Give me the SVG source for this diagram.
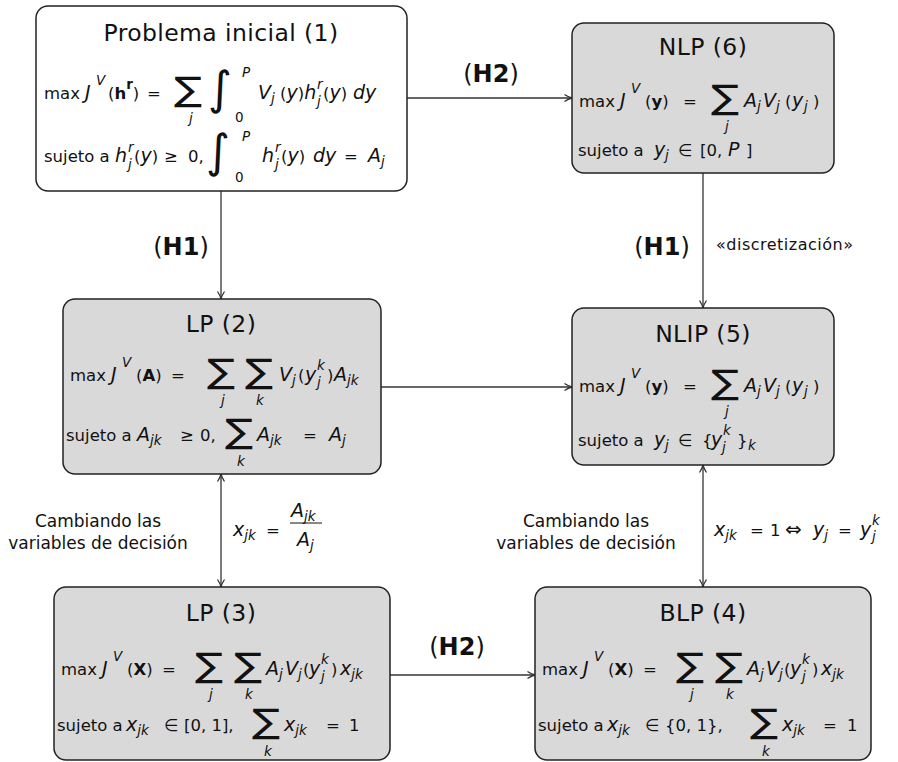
<svg xmlns="http://www.w3.org/2000/svg" width="898" height="762" viewBox="0 0 898 762">
<defs>
<style>
text{font-family:"DejaVu Sans",sans-serif;fill:#111;}
.box{stroke:#222;stroke-width:1.5;}
.w{fill:#fff;}
.g{fill:#d9d9d9;}
.tt{font-size:23.5px;letter-spacing:0.4px;}
.m{font-size:16.5px;}
.i{font-style:italic;}
.b{font-weight:bold;}
.s{font-size:13.5px;}
.m .i{font-size:19px;}
.m .s{font-size:13.5px;}
.m .big{font-size:20px;}
.sum{font-size:32px;}
.int{font-size:46px;}
.lim{font-size:13.5px;font-style:italic;}
.lbl{font-size:17px;}
.h{font-size:24px;}
.d{font-size:16px;letter-spacing:0.5px;}
.c{stroke:#333;stroke-width:1.3;fill:none;}
</style>
<marker id="ah" viewBox="0 0 10 10" refX="9.5" refY="5" markerWidth="10" markerHeight="10" markerUnits="userSpaceOnUse" orient="auto-start-reverse">
<path d="M2,1.5 Q6,4.2 9.5,5 Q6,5.8 2,8.5" fill="none" stroke="#333" stroke-width="1.3"/>
</marker>
</defs>
<rect width="898" height="762" fill="#fff"/>

<g id="connectors">
<line id="e1-6" class="c" x1="407" y1="98" x2="572" y2="98" marker-end="url(#ah)"/>
<line id="e1-2" class="c" x1="221" y1="191" x2="221" y2="299" marker-end="url(#ah)"/>
<line id="e6-5" class="c" x1="703" y1="173" x2="703" y2="308" marker-end="url(#ah)"/>
<line id="e2-5" class="c" x1="381" y1="387" x2="572" y2="387" marker-end="url(#ah)"/>
<line id="e2-3" class="c" x1="221" y1="474" x2="221" y2="587" marker-start="url(#ah)" marker-end="url(#ah)"/>
<line id="e5-4" class="c" x1="703" y1="465" x2="703" y2="587" marker-start="url(#ah)" marker-end="url(#ah)"/>
<line id="e3-4" class="c" x1="390" y1="675" x2="535" y2="675" marker-end="url(#ah)"/>
<text class="h" x="491" y="82" text-anchor="middle">(<tspan class="b">H2</tspan>)</text>
<text class="h" x="181" y="255" text-anchor="middle">(<tspan class="b">H1</tspan>)</text>
<text class="h" x="662" y="255" text-anchor="middle">(<tspan class="b">H1</tspan>)</text>
<text class="d" x="716" y="250">«discretización»</text>
<text class="h" x="457" y="655" text-anchor="middle">(<tspan class="b">H2</tspan>)</text>
<text class="lbl" x="98" y="527" text-anchor="middle">Cambiando las</text>
<text class="lbl" x="98" y="549" text-anchor="middle">variables de decisión</text>
<text class="lbl" x="586" y="527" text-anchor="middle">Cambiando las</text>
<text class="lbl" x="586" y="549" text-anchor="middle">variables de decisión</text>
<text class="m" y="536"><tspan x="233" class="i">x</tspan><tspan y="540" class="i s">jk</tspan><tspan x="266" y="536">=</tspan><tspan x="291" y="517" class="i">A</tspan><tspan y="521" class="i s">jk</tspan><tspan x="297" y="546" class="i">A</tspan><tspan y="550" class="i s">j</tspan></text>
<line x1="290" y1="523" x2="322" y2="523" stroke="#111" stroke-width="1"/>
<text class="m" y="536"><tspan x="714" class="i">x</tspan><tspan y="540" class="i s">jk</tspan><tspan x="750" y="536">=</tspan><tspan x="770">1</tspan><tspan x="785" class="big">⇔</tspan><tspan x="813" class="i">y</tspan><tspan y="540" class="i s">j</tspan><tspan x="838" y="536">=</tspan><tspan x="860" class="i">y</tspan><tspan x="872" y="525" class="i s">k</tspan><tspan x="872" y="541" class="i s">j</tspan></text>
</g>

<g id="n1">
<rect class="box w" x="36" y="6" width="371" height="185" rx="12"/>
<text class="tt" x="221" y="41" text-anchor="middle">Problema inicial (1)</text>
<text class="m" y="99"><tspan x="44">max</tspan><tspan x="85" class="i">J</tspan><tspan x="96" y="85" class="i s">V</tspan><tspan x="108" y="99">(</tspan><tspan class="b">h</tspan><tspan class="b s" y="89">r</tspan><tspan y="99">)</tspan><tspan x="147">=</tspan><tspan x="258" class="i">V</tspan><tspan x="271" y="103" class="i s">j</tspan><tspan x="280" y="99">(</tspan><tspan class="i">y</tspan><tspan>)</tspan><tspan class="i">h</tspan><tspan x="317" y="89" class="i s">r</tspan><tspan x="317" y="106" class="i s">j</tspan><tspan x="323" y="99">(</tspan><tspan class="i">y</tspan><tspan>)</tspan><tspan x="353" class="i">dy</tspan></text>
<text class="sum" transform="translate(188,101) scale(1.3,1.05)" text-anchor="middle">∑</text>
<text class="lim" x="191" y="123" text-anchor="middle">j</text>
<text class="int" x="220" y="104" text-anchor="middle">∫</text>
<text class="lim" x="242" y="77">P</text>
<text class="m s" x="235" y="122">0</text>
<text class="m" y="162"><tspan x="44">sujeto a</tspan><tspan x="115" class="i">h</tspan><tspan x="128" y="152" class="i s">r</tspan><tspan x="128" y="169" class="i s">j</tspan><tspan x="134" y="162">(</tspan><tspan class="i">y</tspan><tspan>)</tspan><tspan x="164">≥</tspan><tspan x="188">0,</tspan><tspan x="262" class="i">h</tspan><tspan x="275" y="152" class="i s">r</tspan><tspan x="275" y="169" class="i s">j</tspan><tspan x="281" y="162">(</tspan><tspan class="i">y</tspan><tspan>)</tspan><tspan x="313" class="i">dy</tspan><tspan x="344">=</tspan><tspan x="368" class="i">A</tspan><tspan x="381" y="166" class="i s">j</tspan></text>
<text class="int" x="218" y="167" text-anchor="middle">∫</text>
<text class="lim" x="242" y="141">P</text>
<text class="m s" x="235" y="182">0</text>
</g>

<g id="n6">
<rect class="box g" x="572" y="23" width="262" height="150" rx="12"/>
<text class="tt" x="703" y="55" text-anchor="middle">NLP (6)</text>
<text class="m" y="107"><tspan x="579">max</tspan><tspan x="620" class="i">J</tspan><tspan x="631" y="93" class="i s">V</tspan><tspan x="645" y="107">(</tspan><tspan class="b">y</tspan><tspan>)</tspan><tspan x="683">=</tspan><tspan x="744" class="i">A</tspan><tspan x="757" y="111" class="i s">j</tspan><tspan x="763" y="107" class="i">V</tspan><tspan x="776" y="111" class="i s">j</tspan><tspan x="785" y="107">(</tspan><tspan x="792" class="i">y</tspan><tspan x="804" y="111" class="i s">j</tspan><tspan x="813" y="107">)</tspan></text>
<text class="sum" transform="translate(725,109) scale(1.3,1.05)" text-anchor="middle">∑</text>
<text class="lim" x="727" y="131" text-anchor="middle">j</text>
<text class="m" y="156"><tspan x="578">sujeto a</tspan><tspan x="654" class="i">y</tspan><tspan x="665" y="160" class="i s">j</tspan><tspan x="678" y="156">∈</tspan><tspan x="700">[0,</tspan><tspan x="728" class="i">P</tspan><tspan x="746">]</tspan></text>
</g>

<g id="n2">
<rect class="box g" x="63" y="299" width="318" height="175" rx="12"/>
<text class="tt" x="221" y="332" text-anchor="middle">LP (2)</text>
<text class="m" y="381"><tspan x="70">max</tspan><tspan x="111" class="i">J</tspan><tspan x="122" y="367" class="i s">V</tspan><tspan x="136" y="381">(</tspan><tspan class="b">A</tspan><tspan>)</tspan><tspan x="171">=</tspan><tspan x="279" class="i">V</tspan><tspan x="292" y="385" class="i s">j</tspan><tspan x="298" y="381">(</tspan><tspan x="305" class="i">y</tspan><tspan x="317" y="370" class="i s">k</tspan><tspan x="317" y="387" class="i s">j</tspan><tspan x="327" y="381">)</tspan><tspan x="334" class="i">A</tspan><tspan y="385" class="i s">jk</tspan></text>
<text class="sum" transform="translate(221,383) scale(1.3,1.05)" text-anchor="middle">∑</text>
<text class="lim" x="223" y="405" text-anchor="middle">j</text>
<text class="sum" transform="translate(259,383) scale(1.3,1.05)" text-anchor="middle">∑</text>
<text class="lim" x="260" y="405" text-anchor="middle">k</text>
<text class="m" y="441"><tspan x="66">sujeto a</tspan><tspan x="137" class="i">A</tspan><tspan y="445" class="i s">jk</tspan><tspan x="180" y="441">≥</tspan><tspan x="200">0,</tspan><tspan x="257" class="i">A</tspan><tspan y="445" class="i s">jk</tspan><tspan x="303" y="441">=</tspan><tspan x="329" class="i">A</tspan><tspan y="445" class="i s">j</tspan></text>
<text class="sum" transform="translate(239,443) scale(1.3,1.05)" text-anchor="middle">∑</text>
<text class="lim" x="241" y="466" text-anchor="middle">k</text>
</g>

<g id="n5">
<rect class="box g" x="572" y="308" width="262" height="157" rx="12"/>
<text class="tt" x="703" y="342" text-anchor="middle">NLIP (5)</text>
<text class="m" y="392"><tspan x="579">max</tspan><tspan x="620" class="i">J</tspan><tspan x="631" y="378" class="i s">V</tspan><tspan x="645" y="392">(</tspan><tspan class="b">y</tspan><tspan>)</tspan><tspan x="683">=</tspan><tspan x="744" class="i">A</tspan><tspan x="757" y="396" class="i s">j</tspan><tspan x="763" y="392" class="i">V</tspan><tspan x="776" y="396" class="i s">j</tspan><tspan x="785" y="392">(</tspan><tspan x="792" class="i">y</tspan><tspan x="804" y="396" class="i s">j</tspan><tspan x="813" y="392">)</tspan></text>
<text class="sum" transform="translate(725,394) scale(1.3,1.05)" text-anchor="middle">∑</text>
<text class="lim" x="727" y="416" text-anchor="middle">j</text>
<text class="m" y="446"><tspan x="578">sujeto a</tspan><tspan x="654" class="i">y</tspan><tspan x="665" y="450" class="i s">j</tspan><tspan x="678" y="446">∈</tspan><tspan x="702">{</tspan><tspan x="711" class="i">y</tspan><tspan x="723" y="435" class="i s">k</tspan><tspan x="722" y="452" class="i s">j</tspan><tspan x="737" y="446">}</tspan><tspan x="748" y="450" class="i s">k</tspan></text>
</g>

<g id="n3">
<rect class="box g" x="54" y="587" width="336" height="173" rx="12"/>
<text class="tt" x="221" y="621" text-anchor="middle">LP (3)</text>
<text class="m" y="675"><tspan x="61">max</tspan><tspan x="102" class="i">J</tspan><tspan x="113" y="661" class="i s">V</tspan><tspan x="127" y="675">(</tspan><tspan class="b">X</tspan><tspan>)</tspan><tspan x="162">=</tspan><tspan x="266" class="i">A</tspan><tspan y="679" class="i s">j</tspan><tspan x="285" y="675" class="i">V</tspan><tspan y="679" class="i s">j</tspan><tspan x="303" y="675">(</tspan><tspan x="309" class="i">y</tspan><tspan x="321" y="664" class="i s">k</tspan><tspan x="321" y="681" class="i s">j</tspan><tspan x="331" y="675">)</tspan><tspan x="340" class="i">x</tspan><tspan y="679" class="i s">jk</tspan></text>
<text class="sum" transform="translate(209,677) scale(1.3,1.05)" text-anchor="middle">∑</text>
<text class="lim" x="211" y="699" text-anchor="middle">j</text>
<text class="sum" transform="translate(248,677) scale(1.3,1.05)" text-anchor="middle">∑</text>
<text class="lim" x="249" y="699" text-anchor="middle">k</text>
<text class="m" y="731"><tspan x="57">sujeto a</tspan><tspan x="126" class="i">x</tspan><tspan y="735" class="i s">jk</tspan><tspan x="164" y="731">∈</tspan><tspan x="184">[0, 1],</tspan><tspan x="284" class="i">x</tspan><tspan y="735" class="i s">jk</tspan><tspan x="326" y="731">=</tspan><tspan x="349">1</tspan></text>
<text class="sum" transform="translate(266,733) scale(1.3,1.05)" text-anchor="middle">∑</text>
<text class="lim" x="268" y="756" text-anchor="middle">k</text>
</g>

<g id="n4">
<rect class="box g" x="535" y="587" width="336" height="173" rx="12"/>
<text class="tt" x="703" y="621" text-anchor="middle">BLP (4)</text>
<text class="m" y="675"><tspan x="542">max</tspan><tspan x="583" class="i">J</tspan><tspan x="594" y="661" class="i s">V</tspan><tspan x="608" y="675">(</tspan><tspan class="b">X</tspan><tspan>)</tspan><tspan x="643">=</tspan><tspan x="747" class="i">A</tspan><tspan y="679" class="i s">j</tspan><tspan x="766" y="675" class="i">V</tspan><tspan y="679" class="i s">j</tspan><tspan x="784" y="675">(</tspan><tspan x="790" class="i">y</tspan><tspan x="802" y="664" class="i s">k</tspan><tspan x="802" y="681" class="i s">j</tspan><tspan x="812" y="675">)</tspan><tspan x="821" class="i">x</tspan><tspan y="679" class="i s">jk</tspan></text>
<text class="sum" transform="translate(690,677) scale(1.3,1.05)" text-anchor="middle">∑</text>
<text class="lim" x="692" y="699" text-anchor="middle">j</text>
<text class="sum" transform="translate(729,677) scale(1.3,1.05)" text-anchor="middle">∑</text>
<text class="lim" x="730" y="699" text-anchor="middle">k</text>
<text class="m" y="731"><tspan x="538">sujeto a</tspan><tspan x="607" class="i">x</tspan><tspan y="735" class="i s">jk</tspan><tspan x="645" y="731">∈</tspan><tspan x="665">{0, 1},</tspan><tspan x="782" class="i">x</tspan><tspan y="735" class="i s">jk</tspan><tspan x="823" y="731">=</tspan><tspan x="847">1</tspan></text>
<text class="sum" transform="translate(764,733) scale(1.3,1.05)" text-anchor="middle">∑</text>
<text class="lim" x="766" y="756" text-anchor="middle">k</text>
</g>
</svg>
